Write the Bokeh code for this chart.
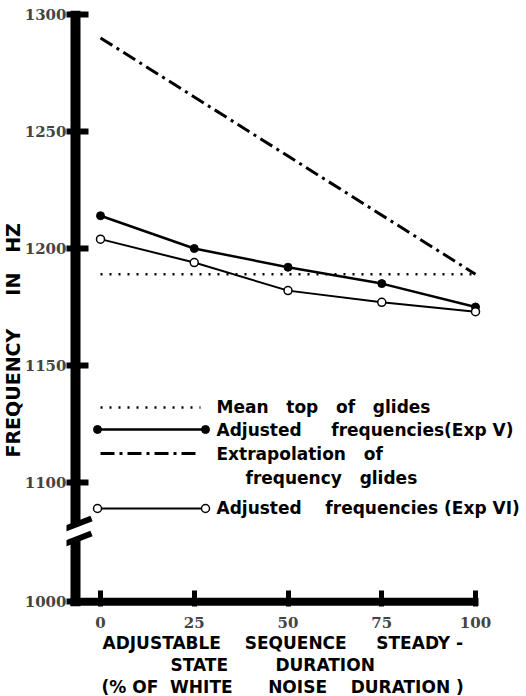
import math
from bokeh.plotting import figure
from bokeh.models import Range1d, FixedTicker, Label, Arrow, Title
from bokeh.embed import file_html
from bokeh.resources import INLINE


def gap(n):
    # n visible spaces (non-breaking ones so SVG text keeps them)
    return " " + "\u00a0" * (n - 1)


# ---------------- data ----------------
duration_pct = [0, 25, 50, 75, 100]
freq_exp_v = [1214, 1200, 1192, 1185, 1175]
freq_exp_vi = [1204, 1194, 1182, 1177, 1173]
mean_top_x = [0, 100]
mean_top_freq = [1189, 1189]
extrap_x = [0, 100]
extrap_freq = [1290, 1189]
x_ticks = [0, 25, 50, 75, 100]
y_ticks = [1100, 1150, 1200, 1250, 1300]
y_base_label = "1000"
legend_labels = ["Mean" + gap(3) + "top" + gap(3) + "of" + gap(3) + "glides",
                 "Adjusted" + gap(5) + "frequencies(Exp V)",
                 "Extrapolation" + gap(3) + "of",
                 "frequency" + gap(3) + "glides",
                 "Adjusted" + gap(4) + "frequencies (Exp VI)"]
x_title_lines = ["ADJUSTABLE" + gap(4) + "SEQUENCE" + gap(5) + "STEADY -",
                 "STATE" + gap(8) + "DURATION",
                 "(% OF" + gap(2) + "WHITE" + gap(6) + "NOISE" + gap(4) + "DURATION )"]
y_title = "FREQUENCY" + gap(5) + "IN" + gap(3) + "HZ"

# ---------------- layout helpers (canvas pixel -> data) ----------------
X0_PX, X_PX_PER_UNIT = 100.0, 3.75
Y1300_PX, Y_PX_PER_HZ = 14.0, 2.34
W, H = 526, 696
FRAME_L, FRAME_R, FRAME_T, FRAME_B = 66, 526, 10, 606


def dx(px):
    return (px - X0_PX) / X_PX_PER_UNIT


def dy(py):
    return 1300 - (py - Y1300_PX) / Y_PX_PER_HZ


AXIS_BASE = round(dy(602))  # where "1000" sits after the axis break

p = figure(width=W, height=H,
           x_range=Range1d(dx(FRAME_L), dx(FRAME_R)), y_range=Range1d(dy(FRAME_B), dy(FRAME_T)),
           output_backend="svg", toolbar_location=None,
           min_border_left=FRAME_L, min_border_right=W - FRAME_R,
           min_border_top=FRAME_T, min_border_bottom=H - FRAME_B)
p.grid.visible = False
p.outline_line_color = None
p.background_fill_color = "white"

SERIF = "DejaVu Serif"
SANS = "DejaVu Sans"

# x axis
xa = p.xaxis[0]
xa.ticker = FixedTicker(ticks=x_ticks)
xa.axis_line_color = None
xa.major_tick_in = 16
xa.major_tick_out = 0
xa.major_tick_line_width = 5
xa.major_tick_line_cap = "butt"
xa.minor_tick_line_color = None
xa.major_label_text_font = SERIF
xa.major_label_text_font_style = "bold"
xa.major_label_text_font_size = "15px"
xa.major_label_standoff = 10

# y axis
ya = p.yaxis[0]
ya.ticker = FixedTicker(ticks=[AXIS_BASE] + y_ticks)
ya.major_label_overrides = {AXIS_BASE: y_base_label}
ya.axis_line_color = None
ya.major_tick_in = 22
ya.major_tick_out = 0
ya.major_tick_line_width = 6
ya.major_tick_line_cap = "butt"
ya.minor_tick_line_color = None
ya.major_label_text_font = SERIF
ya.major_label_text_font_style = "bold"
ya.major_label_text_font_size = "15px"
ya.major_label_standoff = 0

# heavy axis lines with break
p.segment(x0=[dx(75), dx(75)], y0=[dy(FRAME_T), dy(539)], x1=[dx(75), dx(75)], y1=[dy(524), dy(FRAME_B)],
          line_width=10, line_color="black", line_cap="butt")
p.segment(x0=[dx(70)], y0=[AXIS_BASE], x1=[dx(478)], y1=[AXIS_BASE],
          line_width=8, line_color="black", line_cap="butt")
for y_off in (530, 545):
    p.add_layout(Arrow(end=None, x_start=dx(60), y_start=dy(y_off), x_end=dx(91), y_end=dy(y_off - 12),
                       line_width=6, line_color="black"))

# ---------------- data series ----------------
p.line(mean_top_x, mean_top_freq, line_width=2.5, line_dash="2 7", line_color="black")
p.line(extrap_x, extrap_freq, line_width=3, line_dash="14 5 3 5", line_color="black")
p.line(duration_pct, freq_exp_v, line_width=2.5, line_color="black")
p.scatter(duration_pct, freq_exp_v, size=8, fill_color="black", line_color="black")
p.line(duration_pct, freq_exp_vi, line_width=2, line_color="black")
p.scatter(duration_pct, freq_exp_vi, size=8, fill_color="white", line_color="black", line_width=1.5)

# ---------------- legend (custom) ----------------
LX0, LX1 = 97, 205
rows = [407, 429, 453, 508]
p.line([dx(100), dx(200)], [dy(rows[0])] * 2, line_width=2.5, line_dash="2 7", line_color="black")
p.line([dx(LX0), dx(LX1)], [dy(rows[1])] * 2, line_width=2.5, line_color="black")
p.scatter([dx(LX0), dx(LX1)], [dy(rows[1])] * 2, size=8, fill_color="black", line_color="black")
p.line([dx(100), dx(198)], [dy(rows[2])] * 2, line_width=3, line_dash="14 5 3 5", line_color="black")
p.line([dx(LX0), dx(LX1)], [dy(rows[3])] * 2, line_width=2, line_color="black")
p.scatter([dx(LX0), dx(LX1)], [dy(rows[3])] * 2, size=8, fill_color="white", line_color="black", line_width=1.5)

leg_pos = [(216, 406), (216, 429), (216, 453), (245, 477), (216, 507)]
for (lx, ly), txt in zip(leg_pos, legend_labels):
    p.add_layout(Label(x=dx(lx), y=dy(ly), text=txt, text_align="left", text_baseline="middle",
                       text_font=SANS, text_font_style="bold", text_font_size="17px", text_color="black"))

# ---------------- axis titles (as title panels) ----------------
for start_px, txt in zip([102, 170, 101], x_title_lines):
    p.add_layout(Title(text=txt, align="left", offset=start_px - FRAME_L, standoff=0,
                       text_font=SANS, text_font_style="bold", text_font_size="17px",
                       text_color="black"), "below")
p.add_layout(Title(text=y_title, align="left", offset=FRAME_B - 457, standoff=-5,
                   text_font=SANS, text_font_style="bold", text_font_size="19px",
                   text_color="black"), "left")

open("out.html", "w").write(file_html(p, INLINE))
